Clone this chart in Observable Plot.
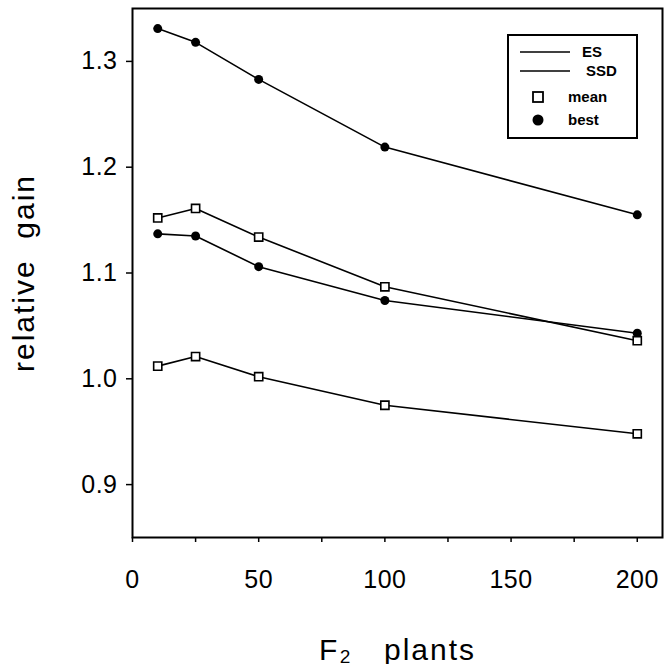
<!DOCTYPE html>
<html>
<head>
<meta charset="utf-8">
<script src="https://cdn.jsdelivr.net/npm/d3@7"></script>
<script src="https://cdn.jsdelivr.net/npm/@observablehq/plot@0.6"></script>
<style>
  body { margin: 0; background: #fff; }
  #wrap { position: relative; width: 664px; height: 664px; font-family: "Liberation Sans", Arial, sans-serif; }
  svg text { white-space: pre; }
  g[aria-label="y-axis tick label"], g[aria-label="x-axis tick label"] { font-size: 25px; letter-spacing: 0.5px; }
  g[aria-label="y-axis label"], g[aria-label="x-axis label"] { font-size: 30px; letter-spacing: 2px; }
  #legend { position: absolute; left: 507px; top: 34px; width: 127px; height: 101px; border: 2px solid #000; background: #fff; }
  #legend svg { position: absolute; left: 0; top: 0; }
</style>
</head>
<body>
<div id="wrap"></div>
<script>
const plants = [10, 25, 50, 100, 200];
const esBest  = [1.331, 1.318, 1.283, 1.219, 1.155];
const esMean  = [1.152, 1.161, 1.134, 1.087, 1.036];
const ssdBest = [1.137, 1.135, 1.106, 1.074, 1.043];
const ssdMean = [1.012, 1.021, 1.002, 0.975, 0.948];
const yTicks = [0.9, 1.0, 1.1, 1.2, 1.3];
const xTicks = [0, 50, 100, 150, 200];
const xMinor = [0, 25, 50, 75, 100, 125, 150, 175, 200];
const legendItems = ["ES", "SSD", "mean", "best"];

function rows(series, method, stat) {
  return plants.map((p, i) => ({plants: p, gain: series[i], method, stat}));
}
const data = [
  ...rows(esBest, "ES", "best"),
  ...rows(esMean, "ES", "mean"),
  ...rows(ssdBest, "SSD", "best"),
  ...rows(ssdMean, "SSD", "mean")
];
const keyOf = d => d.method + "-" + d.stat;

const chart = Plot.plot({
  width: 664,
  height: 664,
  marginLeft: 132,
  marginRight: 2,
  marginTop: 8,
  marginBottom: 127,
  style: {fontFamily: "Liberation Sans, Arial, sans-serif", color: "#000", background: "#fff"},
  x: {domain: [0, 210]},
  y: {domain: [0.85, 1.35]},
  marks: [
    Plot.frame({stroke: "#000", strokeWidth: 2}),
    Plot.axisY({ticks: yTicks, tickFormat: d3.format(".1f"), tickSize: 6, tickPadding: 9, strokeWidth: 1.5,
      label: "relative  gain", labelArrow: "none", labelAnchor: "center", labelOffset: 120}),
    Plot.axisX({ticks: xMinor, tickFormat: () => "", tickSize: 5, strokeWidth: 1.5, label: null}),
    Plot.axisX({ticks: xTicks, tickFormat: d3.format("d"), tickSize: 0, tickPadding: 33,
      label: "F₂   plants", labelArrow: "none", labelAnchor: "center", labelOffset: 122}),
    Plot.line(data, {x: "plants", y: "gain", z: keyOf, stroke: "#000", strokeWidth: 1.6}),
    Plot.dot(data.filter(d => d.stat === "best"), {x: "plants", y: "gain", r: 4.5, fill: "#000", stroke: "none"}),
    Plot.dot(data.filter(d => d.stat === "mean"), {x: "plants", y: "gain", symbol: "square", r: 4.6, fill: "#fff", stroke: "#000", strokeWidth: 1.6})
  ]
});
document.getElementById("wrap").appendChild(chart);
// strip any direction arrows from axis labels
d3.select(chart).selectAll('g[aria-label="y-axis label"] text, g[aria-label="x-axis label"] text')
  .each(function() { this.textContent = this.textContent.replace(/\s*[↑↓→←]\s*/g, ""); });

// legend
const leg = d3.select("#wrap").append("div").attr("id", "legend");
const ls = leg.append("svg").attr("width", 127).attr("height", 101)
  .style("font-family", "Liberation Sans, Arial, sans-serif").style("font-size", "15px").style("font-weight", "bold");
legendItems.forEach((t, i) => {
  const cy = [16, 35, 61, 84][i];
  if (i < 2) {
    ls.append("line").attr("x1", 11).attr("x2", 61).attr("y1", cy).attr("y2", cy).attr("stroke", "#000").attr("stroke-width", 1.6);
    ls.append("text").attr("x", i === 0 ? 73 : 77).attr("y", cy).attr("dy", "0.35em").text(t);
  } else {
    if (t === "mean") ls.append("rect").attr("x", 24).attr("y", cy - 5).attr("width", 10).attr("height", 10).attr("fill", "#fff").attr("stroke", "#000").attr("stroke-width", 1.8);
    else ls.append("circle").attr("cx", 29).attr("cy", cy).attr("r", 5.5).attr("fill", "#000");
    ls.append("text").attr("x", 59).attr("y", cy).attr("dy", "0.35em").text(t);
  }
});
</script>
</body>
</html>
